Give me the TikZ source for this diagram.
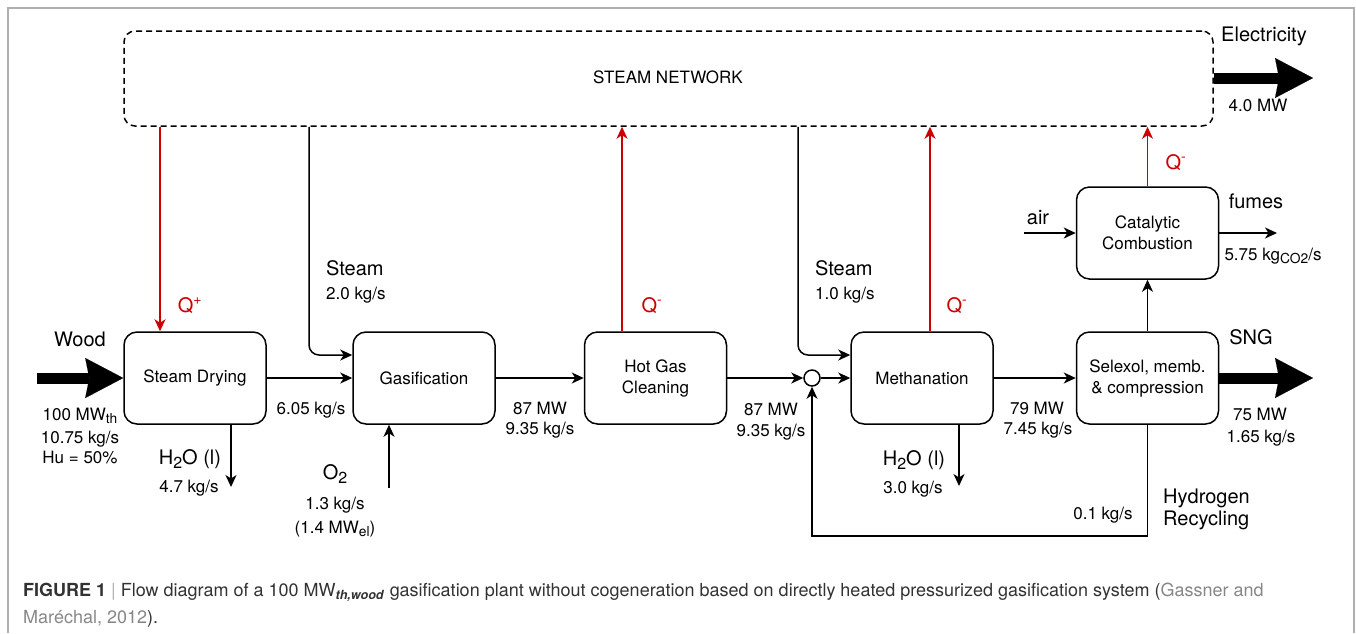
\documentclass[tikz,border=0pt]{standalone}
\usepackage{fontspec}
\setmainfont{TeX Gyre Heros}
\usetikzlibrary{arrows.meta}
\definecolor{qred}{RGB}{204,0,0}
\definecolor{framegray}{RGB}{175,175,175}
\definecolor{captxt}{RGB}{50,50,50}
\definecolor{citegray}{RGB}{135,135,135}
\newcommand\lsub[1]{\raisebox{-3.6pt}{\fontsize{13.8}{14}\selectfont #1}}
\newcommand\bsub[1]{\raisebox{-4.2pt}{\fontsize{16}{16}\selectfont #1}}
\begin{document}
\begin{tikzpicture}[x=1pt,y=-1pt,
  lbl/.style={inner sep=0pt, font=\fontsize{17}{20}\selectfont, text height=12.2pt, text depth=0pt},
  big/.style={inner sep=0pt, font=\fontsize{20}{24}\selectfont, text height=14.4pt, text depth=0pt},
  proc/.style={draw, line width=1.5pt, rounded corners=13pt, minimum width=142pt, minimum height=92pt,
    inner sep=0pt, align=center, font=\fontsize{17}{21}\selectfont},
  flow/.style={draw, line width=1.5pt, -{Stealth[length=12pt,width=11pt,inset=3.5pt]}},
  heat/.style={flow, qred},
  fat/.style={draw, line width=11pt, -{Stealth[length=38pt,width=40pt,inset=4pt,line width=0.1pt]}},
  capt/.style={inner sep=0pt, anchor=west, font=\fontsize{18}{22}\selectfont, text height=13pt, text depth=0pt, color=captxt}
]
\useasboundingbox (0,0) rectangle (1356,633);
% frame
\draw[framegray, line width=1.3pt] (8,633) -- (8,8) -- (1354,8) -- (1354,633);

% steam network
\node[draw, dashed, dash pattern=on 6pt off 4pt, line width=1.5pt, rounded corners=11pt,
  minimum width=1089pt, minimum height=95pt, inner sep=0pt] (net) at (668.5,78.5) {};
\node[lbl] (netlbl) at (668,77) {STEAM NETWORK};

% process boxes
\node[proc] (sd)  at (195,378)    {Steam Drying};
\node[proc] (gas) at (424,378)    {Gasification};
\node[proc] (hgc) at (655.5,378)  {Hot Gas\\Cleaning};
\node[proc] (met) at (922,378)    {Methanation};
\node[proc] (sel) at (1147.5,378) {Selexol, memb.\\\& compression};
\node[proc] (cat) at (1147.5,233) {Catalytic\\Combustion};
\node[draw, circle, line width=1.5pt, minimum size=16pt, inner sep=0pt] (mix) at (812,378) {};

% free-end coordinates
\coordinate (woodin) at (37,378);
\coordinate (elout) at (1313,78);
\coordinate (sngout) at (1313,378);
\coordinate (h2o1) at (231,487);
\coordinate (o2in) at (389,488);
\coordinate (h2o2) at (959,486);
\coordinate (airin) at (1024,233);
\coordinate (fumout) at (1277,233);
\coordinate (rc) at (1147.5,536);
\coordinate (s1x) at (309,0);
\coordinate (s2x) at (798,0);
\coordinate (q1x) at (160,0);
\coordinate (q2x) at (622,0);
\coordinate (q3x) at (930,0);

% fat arrows
\draw[fat] (woodin) -- (sd.west);
\draw[fat] (net.east |- elout) -- (elout);
\draw[fat] (sel.east) -- (sngout);

% main flow
\draw[flow] (sd.east) -- (gas.west);
\draw[flow] (gas.east) -- (hgc.west);
\draw[flow] (hgc.east) -- (mix.west);
\draw[flow] (mix.east) -- (met.west);
\draw[flow] (met.east) -- (sel.west);
\draw[flow] (sel.north) -- (cat.south);
\draw[flow] (sel.south) -- (rc) -| (mix.south);

% steam lines
\draw[flow, rounded corners=10pt] (net.south -| s1x) |- ([yshift=23pt]gas.west);
\draw[flow, rounded corners=10pt] (net.south -| s2x) |- ([yshift=23pt]met.west);

% heat
\draw[heat] (net.south -| q1x) -- (sd.north -| q1x);
\draw[heat] (hgc.north -| q2x) -- (net.south -| q2x);
\draw[heat] (met.north -| q3x) -- (net.south -| q3x);
\draw[heat] (cat.north) -- (net.south -| cat.north);

% side streams
\draw[flow] (sd.south -| h2o1) -- (h2o1);
\draw[flow] (o2in) -- (gas.south -| o2in);
\draw[flow] (met.south -| h2o2) -- (h2o2);
\draw[flow] (airin) -- (cat.west);
\draw[flow] (cat.east) -- (fumout);

% labels
\node[big] (lel) at (1264,34) {Electricity};
\node[lbl] (lel2) at (1258,105) {4.0 MW};
\node[big] (lwood) at (80,339) {Wood};
\node[lbl] (lw1) at (80,414) {100 MW\lsub{th}};
\node[lbl] (lw2) at (80,437) {10.75 kg/s};
\node[lbl] (lw3) at (80,457) {Hu = 50\%};
\node[big, qred] (lq1) at (190,305) {Q\textsuperscript{+}};
\node[big, anchor=west] (ls1) at (326,268) {Steam};
\node[lbl, anchor=west] (ls1b) at (326,293) {2.0 kg/s};
\node[lbl] (l605) at (311,408) {6.05 kg/s};
\node[big] (lh1) at (190,457) {H\bsub{2}O (l)};
\node[lbl] (lh1b) at (189,486) {4.7 kg/s};
\node[big] (lo2) at (335,472) {O\bsub{2}};
\node[lbl] (lo2b) at (335,503) {1.3 kg/s};
\node[lbl] (lo2c) at (335,527) {(1.4 MW\lsub{el})};
\node[lbl] (l87a) at (540,408) {87 MW};
\node[lbl] (l87b) at (540,428) {9.35 kg/s};
\node[big, qred] (lq2) at (652,305) {Q\textsuperscript{-}};
\node[lbl] (l87c) at (771,409) {87 MW};
\node[lbl] (l87d) at (771,430) {9.35 kg/s};
\node[big, anchor=west] (ls2) at (815,268) {Steam};
\node[lbl, anchor=west] (ls2b) at (815,293) {1.0 kg/s};
\node[big, qred] (lq3) at (957,305) {Q\textsuperscript{-}};
\node[big] (lh2) at (914,458) {H\bsub{2}O (l)};
\node[lbl] (lh2b) at (913,487) {3.0 kg/s};
\node[lbl] (l79a) at (1037,408) {79 MW};
\node[lbl] (l79b) at (1038,428) {7.45 kg/s};
\node[lbl] (l01) at (1103,513) {0.1 kg/s};
\node[big, anchor=west] (lhy1) at (1163,496) {Hydrogen};
\node[big, anchor=west] (lhy2) at (1163,518) {Recycling};
\node[big, qred] (lq4) at (1176,162) {Q\textsuperscript{-}};
\node[big] (lair) at (1038,217) {air};
\node[big] (lfum) at (1256,201) {fumes};
\node[lbl] (lco2) at (1273,254) {5.75 kg\lsub{CO2}/s};
\node[big] (lsng) at (1251,337) {SNG};
\node[lbl] (l75a) at (1260,414) {75 MW};
\node[lbl] (l75b) at (1261,436) {1.65 kg/s};

% caption
\node[capt] (cap1) at (23,590) {\textbf{FIGURE 1} {\color{framegray}|} Flow diagram of a 100 MW\textsubscript{\textbf{\textit{th,wood}}} gasification plant without cogeneration based on directly heated pressurized gasification system ({\color{citegray}Gassner and}};
\node[capt] (cap2) at (23,617) {{\color{citegray}Maréchal, 2012}).};
\end{tikzpicture}
\end{document}
